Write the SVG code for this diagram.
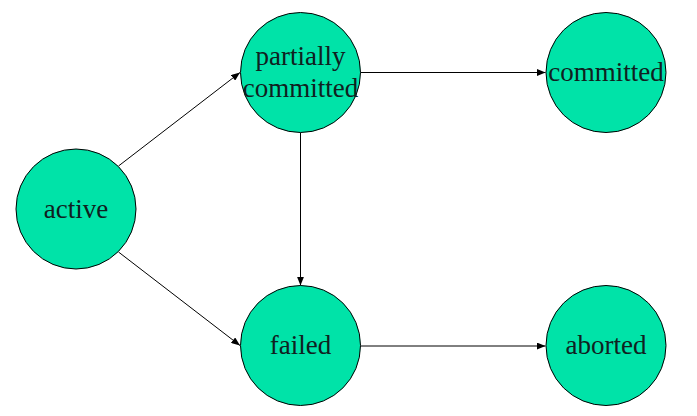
<svg xmlns="http://www.w3.org/2000/svg" width="697" height="416" viewBox="0 0 697 416">
<defs>
<marker id="arr" viewBox="0 0 10 8" refX="10" refY="4" markerWidth="9" markerHeight="7" markerUnits="userSpaceOnUse" orient="auto">
<path d="M0,0 L10,4 L0,8 Z" fill="#000"/>
</marker>
</defs>
<style>
.node circle{fill:#00E3A8;stroke:#000;stroke-width:1}
.node text{font-family:'Liberation Serif',serif;font-size:27px;fill:#102020;text-anchor:middle}
.edges line{stroke:#000;stroke-width:1;marker-end:url(#arr)}
</style>
<rect width="697" height="416" fill="#fff"/>
<g id="edges" class="edges">
<line x1="118.5" y1="166" x2="240" y2="72.5"/>
<line x1="118.5" y1="252" x2="240" y2="345.5"/>
<line x1="360.5" y1="72.5" x2="545.5" y2="72.5"/>
<line x1="300.5" y1="132.5" x2="300.5" y2="285.5"/>
<line x1="360.5" y1="346" x2="545.5" y2="346"/>
</g>
<g id="active" class="node"><circle cx="76" cy="209" r="60"/><text x="76" y="218" font-family="Liberation Serif, serif">active</text></g>
<g id="partially_committed" class="node"><circle cx="300.5" cy="72.5" r="60"/><text x="300.5" y="65" font-family="Liberation Serif, serif">partially</text><text x="300.5" y="96.5" font-family="Liberation Serif, serif">committed</text></g>
<g id="committed" class="node"><circle cx="606" cy="72.5" r="60"/><text x="606" y="81" font-family="Liberation Serif, serif">committed</text></g>
<g id="failed" class="node"><circle cx="300.5" cy="345.5" r="60"/><text x="300.5" y="353.5" font-family="Liberation Serif, serif">failed</text></g>
<g id="aborted" class="node"><circle cx="606" cy="345.5" r="60"/><text x="606" y="353.5" font-family="Liberation Serif, serif">aborted</text></g>
</svg>
